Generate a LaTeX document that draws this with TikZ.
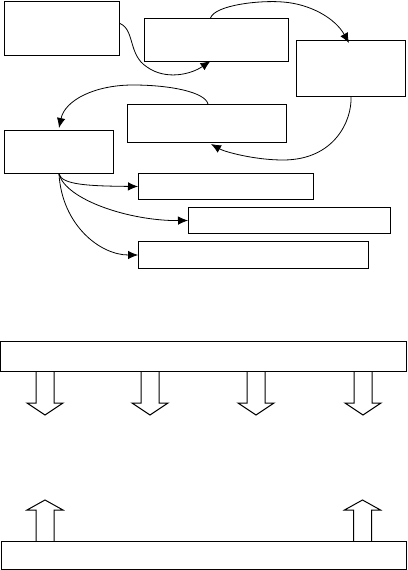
\documentclass[tikz,border=0pt]{standalone}
\usetikzlibrary{arrows.meta,calc}
\begin{document}
\begin{tikzpicture}[x=1pt,y=-1pt,
  box/.style={draw,line width=1pt,inner sep=0pt,anchor=north west},
  conn/.style={line width=0.8pt,-{Latex[length=10pt,width=8.5pt]}},
  blockarrow/.style={draw,line width=1pt}]
\useasboundingbox (0,0) rectangle (407,570);
% top boxes
\node[box,minimum width=115pt,minimum height=54pt] (A) at (4,1) {};
\node[box,minimum width=144pt,minimum height=43pt] (B) at (144,18) {};
\node[box,minimum width=109pt,minimum height=56pt] (C) at (296,40) {};
\node[box,minimum width=159pt,minimum height=38pt] (D) at (127,104) {};
\node[box,minimum width=109pt,minimum height=43pt] (E) at (4,130) {};
\node[box,minimum width=175pt,minimum height=26pt] (F) at (138,173) {};
\node[box,minimum width=202pt,minimum height=26pt] (G) at (188,207) {};
\node[box,minimum width=230pt,minimum height=27pt] (H) at (138,241) {};
% curved connectors
\draw[conn] ($(A.east)+(0,-5)$) .. controls (135,30) and (128,55) .. (147,67)
  .. controls (165,80) and (190,75) .. ($(B.south)+(-6,-1)$);
\draw[conn] ($(B.north)+(-6,0)$) .. controls (215,5) and (260,0) .. (283,2)
  .. controls (310,4) and (335,18) .. ($(C.north)+(-2,3)$);
\draw[conn] (C.south) .. controls (352,120) and (335,160) .. (283,160)
  .. controls (255,160) and (225,152) .. ($(D.south)+(4,1)$);
\draw[conn] ($(D.north)+(1,0)$) .. controls (205,92) and (170,85) .. (133,85)
  .. controls (95,85) and (65,100) .. ($(E.north)+(0,-2)$);
\draw[conn] (E.south) .. controls (62,185) and (90,186) .. (F.west);
\draw[conn] (E.south) .. controls (66,200) and (130,221) .. (G.west);
\draw[conn] (E.south) .. controls (62,225) and (100,255) .. (H.west);
% bars
\node[box,minimum width=406pt,minimum height=30pt] (bar1) at (0,341) {};
\node[box,minimum width=405pt,minimum height=28pt] (bar2) at (1,541) {};
% block arrows down
\foreach \cx in {45,150,256,363}{
  \draw[blockarrow] (\cx-9,371) -- (\cx-9,403) -- (\cx-18,403) -- (\cx,415)
    -- (\cx+18,403) -- (\cx+9,403) -- (\cx+9,371);
}
% block arrows up
\foreach \cx in {45,362.5}{
  \draw[blockarrow] (\cx-9,541) -- (\cx-9,510) -- (\cx-18,510) -- (\cx,500)
    -- (\cx+18,510) -- (\cx+9,510) -- (\cx+9,541);
}
\end{tikzpicture}
\end{document}
